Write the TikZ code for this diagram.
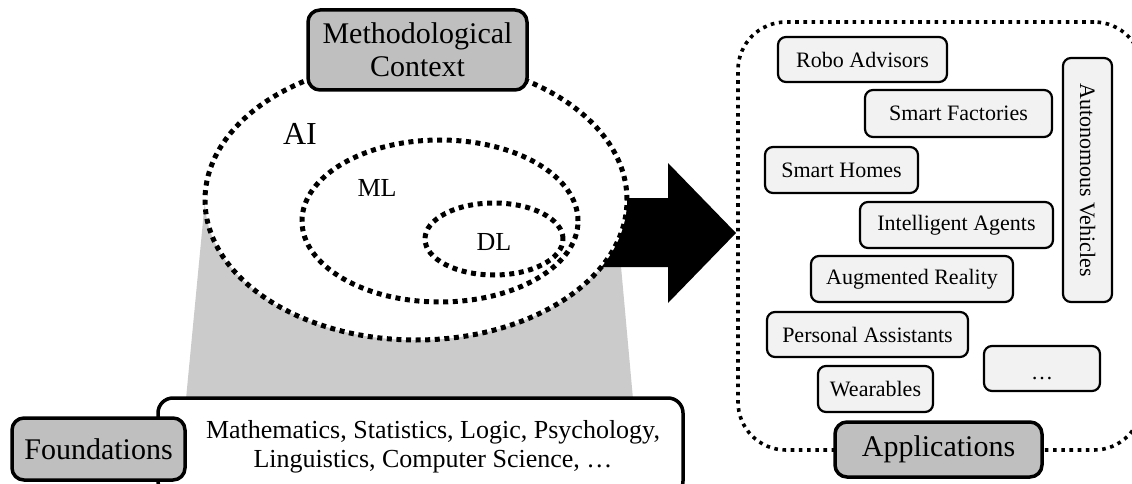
\documentclass[tikz,border=0pt]{standalone}
\usepackage{fontspec}
\setmainfont{Liberation Serif}
\usetikzlibrary{shapes.geometric}
\definecolor{boxgray}{HTML}{BFBFBF}
\definecolor{trapgray}{HTML}{CBCBCB}
\definecolor{appfill}{HTML}{F2F2F2}
\begin{document}
\begin{tikzpicture}[x=1pt,y=-1pt,
  dotline/.style={line width=5pt, dash pattern=on 5pt off 4.6pt},
  dotbox/.style={line width=3.6pt, dash pattern=on 3.6pt off 4.6pt},
  mainbox/.style={draw, line width=3.5pt, fill=boxgray, rounded corners=12pt, inner sep=0pt, align=center},
  appbox/.style={draw, line width=2.2pt, fill=appfill, rounded corners=8pt, inner sep=0pt,
     font=\fontsize{22pt}{26pt}\selectfont},
  ellbox/.style={ellipse, draw, dotline, inner sep=0pt}
]
\useasboundingbox (0,0) rectangle (1132,484);

% grey trapezoid
\fill[trapgray] (205,200) -- (615,200) -- (633,399) -- (186,399) -- cycle;

% block arrow
\fill[black] (600,198) -- (668,198) -- (668,163) -- (736,233) -- (668,303) -- (668,267) -- (600,267) -- cycle;

% nested ellipses
\node[ellbox, fill=white, minimum width=422pt, minimum height=280pt] (ai) at (416,200) {};
\node[ellbox, minimum width=276pt, minimum height=162pt] (ml) at (440,221) {};
\node[ellbox, minimum width=138pt, minimum height=72pt] (dl) at (494,239) {};
\node[font=\fontsize{32pt}{36pt}\selectfont, inner sep=0pt] (ailbl) at (300,134) {AI};
\node[font=\fontsize{26pt}{30pt}\selectfont, inner sep=0pt] (mllbl) at (377,188) {ML};
\node[font=\fontsize{26pt}{30pt}\selectfont, inner sep=0pt] (dllbl) at (494,242) {DL};

% methodological context
\node[mainbox, minimum width=219pt, minimum height=80pt,
      font=\fontsize{30pt}{33pt}\selectfont] (meth) at (417.5,50) {Methodological\\Context};

% foundations
\node[draw, line width=3.5pt, fill=white, rounded corners=15pt, minimum width=525pt, minimum height=98pt] (fndbox) at (420.5,447) {};
\node[font=\fontsize{26pt}{29pt}\selectfont, align=center, inner sep=0pt] (fndtext) at (433,447)
  {Mathematics, Statistics, Logic, Psychology,\\Linguistics, Computer Science, …};
\node[mainbox, minimum width=173pt, minimum height=62pt,
      font=\fontsize{30pt}{33pt}\selectfont] (fnd) at (98.5,449) {Foundations};

% applications area
\node[draw, dotbox, rounded corners=48pt, minimum width=404pt, minimum height=428pt] (apparea) at (940,236) {};
\node[appbox, minimum width=169pt, minimum height=45pt] (robo) at (862.5,59.5) {Robo Advisors};
\node[appbox, minimum width=187pt, minimum height=47pt] (fact) at (958.5,113.5) {Smart Factories};
\node[appbox, minimum width=153pt, minimum height=46pt] (homes) at (841.5,170) {Smart Homes};
\node[appbox, minimum width=193pt, minimum height=46pt] (agents) at (956.5,225) {Intelligent Agents};
\node[appbox, minimum width=202pt, minimum height=46pt] (ar) at (912,279) {Augmented Reality};
\node[appbox, minimum width=201pt, minimum height=45pt] (pa) at (867.5,334.5) {Personal Assistants};
\node[appbox, minimum width=115pt, minimum height=46pt] (wear) at (875.5,389) {Wearables};
\node[appbox, minimum width=116pt, minimum height=45pt, text height=21pt, text depth=0pt] (more) at (1042,368.5) {…};
\node[appbox, rotate=-90, minimum width=244pt, minimum height=49pt] (auto) at (1087.5,180) {Autonomous Vehicles};
\node[mainbox, minimum width=207pt, minimum height=55pt,
      font=\fontsize{30pt}{33pt}\selectfont] (apps) at (938.5,449.5) {Applications};
\end{tikzpicture}
\end{document}
